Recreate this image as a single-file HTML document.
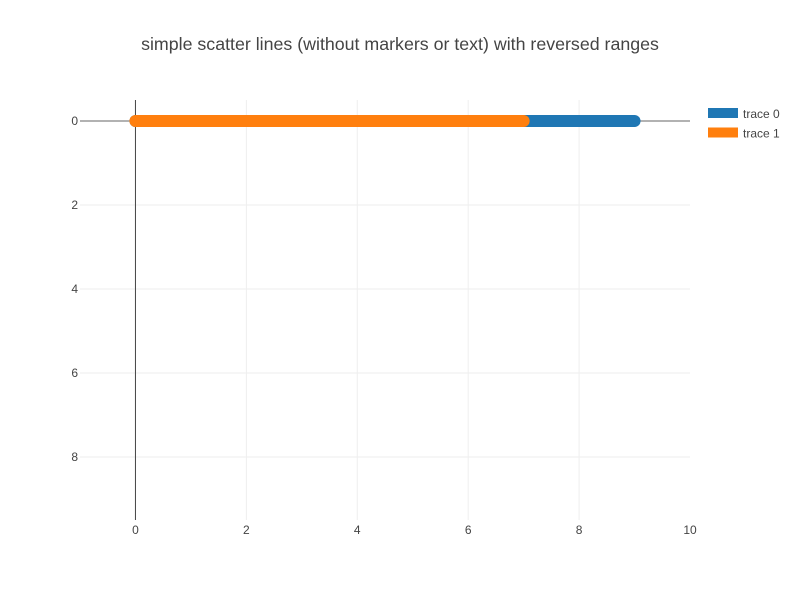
<!DOCTYPE html>
<html><head><meta charset="utf-8"><style>
body{margin:0;background:#fff;}
svg{display:block;font-family:"Liberation Sans",sans-serif;}
</style></head><body>
<svg id="chart" width="800" height="600">
<text x="400" y="50" text-anchor="middle" font-size="17.8" fill="#444">simple scatter lines (without markers or text) with reversed ranges</text>
<g id="grid"></g><g id="axes"></g><g id="traces"></g><g id="legend"></g>
</svg>
<script>
const xTicks=[0,2,4,6,8,10];
const yTicks=[0,2,4,6,8];
const traceNames=['trace 0','trace 1'];
const traceColors=['#1f77b4','#ff7f0e'];
const trace0X=[0,1,2,3,4,5,6,7,8,9];
const trace0Y=[0,0,0,0,0,0,0,0,0,0];
const trace1X=[0,1,2,3,4,5,6,7];
const trace1Y=[0,0,0,0,0,0,0,0];
const L=80,R=690,T=100,B=520;
const xMin=-1,xMax=10,yMin=-0.5,yMax=9.5;
const sx=v=>L+(v-xMin)/(xMax-xMin)*(R-L);
const sy=v=>T+(v-yMin)/(yMax-yMin)*(B-T);
const NS='http://www.w3.org/2000/svg';
function mk(p,tag,a){const e=document.createElementNS(NS,tag);for(const k in a)e.setAttribute(k,a[k]);p.appendChild(e);return e;}
const grid=document.getElementById('grid'),axes=document.getElementById('axes'),tr=document.getElementById('traces'),lg=document.getElementById('legend');
xTicks.forEach(t=>{
 if(t!==0&&t!==xMax){const g=mk(grid,'line',{x1:sx(t),x2:sx(t),y1:T,y2:B,stroke:'#eee','stroke-width':1});
 
 }
 const tx=mk(axes,'text',{x:sx(t),y:B+14,'text-anchor':'middle','font-size':12,fill:'#444'});tx.textContent=t;
 
 
});
yTicks.forEach(t=>{
 if(t!==0){const g=mk(grid,'line',{x1:L,x2:R,y1:sy(t),y2:sy(t),stroke:'#eee','stroke-width':1});
 
 }
 const tx=mk(axes,'text',{x:L-2,y:sy(t)+4,'text-anchor':'end','font-size':12,fill:'#444'});tx.textContent=t;
 
 
});
const zy=mk(axes,'line',{x1:L,x2:R,y1:sy(0),y2:sy(0),stroke:'#999','stroke-width':1.5});


const zx=mk(axes,'line',{x1:sx(0),x2:sx(0),y1:T,y2:B,stroke:'#444','stroke-width':1});


[[trace0X,trace0Y],[trace1X,trace1Y]].forEach((d,i)=>{
 const pts=d[0].map((x,j)=>sx(x)+','+sy(d[1][j])).join(' ');
 const pl=mk(tr,'polyline',{points:pts,fill:'none',stroke:traceColors[i],'stroke-width':12,'stroke-linecap':'round','stroke-linejoin':'round'});
 
 
 const sw=mk(lg,'rect',{x:708,y:108+i*19.5,width:30,height:10,fill:traceColors[i]});
 
 
 const lt=mk(lg,'text',{x:743,y:118+i*19.5,'font-size':12,fill:'#444'});lt.textContent=traceNames[i];
 
 
});
</script>
</body></html>
